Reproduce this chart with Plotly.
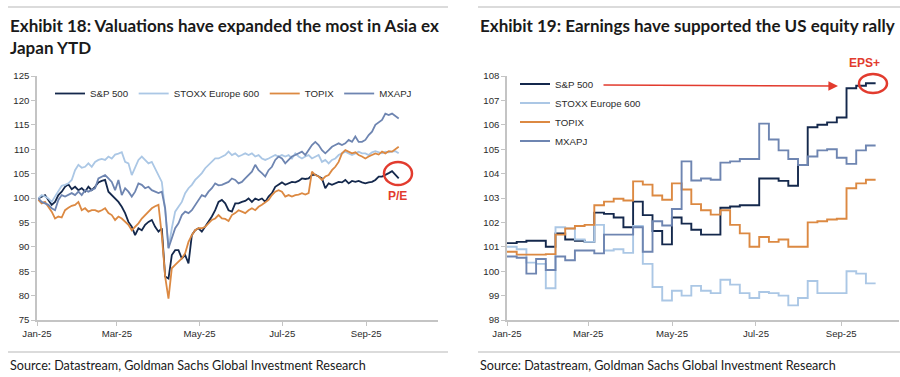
import pandas as pd
import plotly.graph_objects as go

W, H = 900, 377

series_names = ["S&P 500", "STOXX Europe 600", "TOPIX", "MXAPJ"]
series_colors = ["#14284c", "#abc7e5", "#dc8942", "#6e85b1"]

# ---------------- Exhibit 18: P/E (rebased to 100) ----------------
pe_dates = pd.date_range("2025-01-02", "2025-09-25", periods=109)

pe_sp500 = [
    99.9, 100.3, 100.6, 99.6, 98.6, 99.2, 100.6, 101.3, 102.3, 102.8,
    101.8, 102.3, 101.6, 102.0, 101.3, 102.3, 101.6, 102.3, 103.2, 103.5,
    103.7, 101.3, 100.6, 99.9, 99.2, 98.2, 96.9, 95.1, 94.1, 92.4,
    93.8, 93.4, 94.5, 95.1, 95.5, 94.1, 93.1, 93.8, 83.9, 83.5,
    88.3, 89.3, 89.3, 87.6, 88.3, 86.6, 92.4, 93.4, 93.8, 93.1,
    94.1, 95.1, 96.2, 97.5,
    99.2, 99.6, 98.9, 97.5, 97.2, 98.9, 98.9, 99.2, 99.4, 99.9,
    99.2, 99.9, 99.6, 99.9, 99.2, 100.3, 101.0, 102.3, 102.8, 103.2,
    102.7, 103.0, 103.3, 103.2, 103.5, 104.0, 103.9, 104.0, 104.7, 104.8,
    104.4, 104.0, 102.0, 103.0, 102.7, 103.0, 103.3, 103.2, 103.7, 103.0,
    103.5, 103.3, 103.5, 103.2, 103.0, 103.2, 103.3, 103.7, 104.4, 104.4,
    104.7, 105.1, 105.5, 104.7, 104.0,
]
pe_stoxx = [
    99.9, 100.6, 100.3, 99.9, 99.2, 100.3, 101.6, 102.5, 102.7, 103.0,
    103.7, 105.7, 106.8, 106.2, 106.4, 107.1, 106.4, 107.4, 107.8, 108.0,
    107.8, 108.5, 108.1, 108.9, 109.1, 109.4, 107.4, 107.1, 104.7, 106.4,
    107.8, 108.5, 107.8, 107.1, 107.4, 106.1, 104.7, 103.3, 97.5, 89.7,
    93.8, 97.2, 98.2, 99.2, 101.0, 102.0, 102.7, 103.7, 104.4, 105.1,
    106.1, 106.8, 107.4, 108.1,
    108.1, 108.5, 108.8, 109.5, 108.8, 109.15, 108.5, 108.8, 109.15, 108.8,
    109.15, 108.5, 108.8, 108.1, 107.8, 108.1, 108.5, 108.8, 108.5, 108.8,
    108.5, 108.8, 108.1, 109.15, 108.5, 108.1, 108.5, 108.8, 108.1, 108.5,
    108.8, 107.4, 107.8, 107.1, 107.8, 108.1, 108.8, 109.15, 109.5, 109.15,
    108.8, 109.15, 109.5, 109.15, 109.15, 108.8, 109.35, 109.6, 109.35, 109.15,
    109.5, 109.35, 109.5, 109.6, 109.15,
]
pe_topix = [
    99.6, 98.9, 99.2, 98.2, 97.2, 95.8, 96.2, 96.0, 97.5, 98.0,
    98.4, 98.6, 99.2, 97.5, 97.9, 97.2, 97.5, 97.5, 97.2, 97.5,
    97.9, 96.9, 96.5, 95.5, 96.2, 95.8, 95.1, 94.5, 93.4, 94.1,
    94.8, 95.8, 96.5, 97.2, 97.9, 98.3, 98.6, 92.4, 83.9, 79.4,
    85.6, 86.3, 87.0, 87.6, 88.7, 91.0, 92.4, 93.4, 93.8, 93.8,
    94.1, 94.8, 95.5, 95.8,
    96.5, 95.8, 95.7, 95.3, 96.5, 96.9, 97.5, 97.2, 96.9, 97.5,
    97.9, 97.5, 98.2, 98.6, 99.2, 99.6, 100.6, 101.3, 101.6, 101.3,
    100.3, 100.6, 100.3, 100.6, 100.7, 101.0, 100.7, 101.0, 105.4, 104.7,
    104.4, 103.7, 104.4, 104.7, 105.7, 106.4, 107.4, 109.15, 109.8, 109.5,
    109.15, 109.35, 108.8, 108.5, 108.1, 108.5, 108.8, 109.15, 108.9, 109.5,
    109.15, 109.6, 109.5, 110.0, 110.5,
]
pe_mxapj = [
    99.9, 99.2, 98.9, 98.6, 97.9, 97.5, 99.6, 100.6, 100.3, 100.6,
    101.0, 100.6, 101.3, 100.6, 101.6, 101.3, 101.6, 102.0, 104.0, 104.4,
    104.7, 104.0, 103.3, 101.6, 103.7, 100.6, 102.0, 101.3, 100.3, 101.3,
    103.0, 102.7, 102.0, 102.3, 101.6, 101.3, 101.0, 101.3, 97.9, 89.7,
    91.7, 93.8, 94.8, 96.5, 97.2, 96.9, 97.5, 98.6, 99.6, 100.6,
    100.3, 101.3, 102.0, 103.0,
    102.6, 102.7, 103.0, 103.3, 104.0, 103.7, 103.0, 103.3, 104.0, 104.7,
    105.4, 106.8, 105.7, 105.1, 104.4, 105.7, 106.4, 107.8, 108.5, 108.1,
    107.1, 107.8, 108.5, 108.8, 109.15, 109.5, 108.8, 109.8, 110.85, 111.5,
    110.85, 109.8, 109.15, 109.8, 110.5, 110.85, 111.2, 110.85, 111.2, 111.9,
    111.5, 112.6, 111.5, 111.5, 111.9, 112.9, 113.6, 115.0, 115.6, 116.0,
    117.3, 117.0, 117.3, 116.7, 116.3,
]

# ---------------- Exhibit 19: EPS (rebased to 100, weekly) ----------------
eps_dates = pd.date_range("2025-01-01", "2025-09-26", periods=39)

eps_sp500 = [
    101.15, 101.2, 101.25, 101.25, 101.0, 101.55, 101.3, 101.25, 101.2, 102.4,
    102.35, 102.2, 101.8, 102.85, 102.3, 101.65, 101.1, 102.2, 101.95, 101.7,
    101.5, 101.5, 102.6, 102.65, 102.7, 102.7, 103.8, 103.8, 103.7, 103.5,
    104.35, 105.9, 106.0, 106.1, 106.3, 107.5, 107.6, 107.7, 107.7,
]
eps_stoxx = [
    101.0, 100.9, 100.35, 100.3, 99.3, 101.8, 101.75, 101.3, 101.2, 101.9,
    100.85, 100.9, 100.75, 101.85, 100.3, 99.35, 98.8, 99.2, 99.0, 99.4,
    99.2, 99.1, 99.65, 99.45, 99.1, 98.9, 99.15, 99.1, 99.0, 98.6,
    98.9, 99.6, 99.1, 99.1, 99.1, 100.0, 99.9, 99.5, 99.5,
]
eps_topix = [
    100.8, 100.68, 100.68, 100.68, 100.7, 101.5, 101.75, 101.85, 101.9, 102.7,
    102.85, 102.97, 102.9, 103.68, 103.55, 103.1, 102.93, 103.6, 103.35, 102.75,
    102.5, 102.32, 102.5, 101.9, 101.55, 101.0, 101.4, 101.2, 101.3, 101.0,
    101.0, 102.0, 102.05, 102.12, 102.15, 103.4, 103.6, 103.75, 103.75,
]
eps_mxapj = [
    100.6, 100.55, 99.9, 100.5, 100.05, 100.6, 100.45, 100.85, 100.85, 100.73,
    101.5, 101.5, 101.5, 101.8, 100.8, 102.05, 101.87, 102.55, 104.5, 103.72,
    103.8, 103.75, 104.45, 104.5, 104.6, 104.6, 106.05, 105.4, 104.95, 104.6,
    104.35, 104.7, 104.95, 105.0, 104.65, 104.4, 104.95, 105.15, 105.15,
]

tick_dates = ["2025-01-01", "2025-03-01", "2025-05-01", "2025-07-01", "2025-09-01"]
tick_text = ["Jan-25", "Mar-25", "May-25", "Jul-25", "Sep-25"]
pe_ticks = [75, 80, 85, 90, 95, 100, 105, 110, 115, 120, 125]
eps_ticks = [98, 99, 100, 101, 102, 103, 104, 105, 106, 107, 108]

RED = "#e23b2e"
AXIS = "#c4c4c4"
TXT = "#2b2b2b"
TICKFONT = dict(family="Liberation Sans, Arial", size=9.6, color=TXT)
LEGFONT = dict(family="Liberation Sans, Arial", size=9.7, color=TXT)


def px(x):
    return x / W


def py(y):
    return 1 - y / H


fig = go.Figure()

pe_values = [pe_sp500, pe_stoxx, pe_topix, pe_mxapj]
eps_values = [eps_sp500, eps_stoxx, eps_topix, eps_mxapj]

for name, col, vals in zip(series_names, series_colors, pe_values):
    fig.add_trace(go.Scatter(
        x=pe_dates, y=vals, name=name, mode="lines",
        line=dict(color=col, width=1.8), xaxis="x", yaxis="y", legend="legend",
    ))

for name, col, vals in zip(series_names, series_colors, eps_values):
    fig.add_trace(go.Scatter(
        x=eps_dates, y=vals, name=name, mode="lines",
        line=dict(color=col, width=1.9, shape="hv"), xaxis="x2", yaxis="y2", legend="legend2",
    ))

axis_common = dict(
    showgrid=False, zeroline=False, showline=True, linecolor=AXIS, linewidth=1.5,
    ticks="outside", ticklen=4, tickcolor=AXIS, tickfont=TICKFONT, automargin=False,
)

ydom = [py(320), py(76)]

fig.update_layout(
    width=W, height=H,
    margin=dict(l=0, r=0, t=0, b=0, autoexpand=False),
    paper_bgcolor="white", plot_bgcolor="white",
    showlegend=True,
    xaxis=dict(domain=[px(37), px(438)], type="date",
               range=["2025-01-01", "2025-10-24"],
               tickvals=tick_dates, ticktext=tick_text, anchor="y", **axis_common),
    yaxis=dict(domain=ydom, range=[75, 125], tickvals=pe_ticks, anchor="x", **axis_common),
    xaxis2=dict(domain=[px(507), px(899)], type="date",
                range=["2025-01-01", "2025-10-13"],
                tickvals=tick_dates, ticktext=tick_text, anchor="y2", **axis_common),
    yaxis2=dict(domain=ydom, range=[98, 108], tickvals=eps_ticks, anchor="x2", **axis_common),
    legend=dict(orientation="h", x=px(50), y=py(79), xanchor="left", yanchor="top",
                font=LEGFONT, bgcolor="rgba(0,0,0,0)", itemwidth=30),
    legend2=dict(orientation="v", x=px(515), y=py(69.5), xanchor="left", yanchor="top",
                 font=LEGFONT, bgcolor="rgba(0,0,0,0)", itemwidth=30, tracegroupgap=0),
)

TITLE_FONT = dict(family="Lato, Open Sans, sans-serif", size=17, color="#1a1a1a")
SRC_FONT = dict(family="Lato, Open Sans, sans-serif", size=12.6, color="#1a1a1a")

annotations = [
    dict(text="<b>Exhibit 18: Valuations have expanded the most in Asia ex<br>Japan YTD</b>",
         x=px(8), y=py(13), xanchor="left", yanchor="top", align="left", font=TITLE_FONT),
    dict(text="<b>Exhibit 19: Earnings have supported the US equity rally</b>",
         x=px(478), y=py(13), xanchor="left", yanchor="top", align="left", font=TITLE_FONT),
    dict(text="Source: Datastream, Goldman Sachs Global Investment Research",
         x=px(8), y=py(365), xanchor="left", yanchor="middle", font=SRC_FONT),
    dict(text="Source: Datastream, Goldman Sachs Global Investment Research",
         x=px(478), y=py(365), xanchor="left", yanchor="middle", font=SRC_FONT),
    dict(text="<b>P/E</b>", x=px(397), y=py(196), xanchor="center", yanchor="middle",
         font=dict(family="Liberation Sans, Arial", size=12, color=RED)),
    dict(text="<b>EPS+</b>", x=px(864), y=py(63), xanchor="center", yanchor="middle",
         font=dict(family="Liberation Sans, Arial", size=12, color=RED)),
    dict(text="", x=px(838), y=py(86),
         ax=602 - 838, ay=85 - 86, axref="pixel", ayref="pixel",
         showarrow=True, arrowhead=2, arrowsize=1.2, arrowwidth=1.6, arrowcolor=RED),
]
for a in annotations:
    a.setdefault("xref", "paper")
    a.setdefault("yref", "paper")
    a.setdefault("showarrow", False)
fig.update_layout(annotations=annotations)

shapes = [
    dict(type="line", x0=px(8), x1=px(448), y0=py(7), y1=py(7), line=dict(color="#cfcfcf", width=1.5)),
    dict(type="line", x0=px(478), x1=px(900), y0=py(7), y1=py(7), line=dict(color="#cfcfcf", width=1.5)),
    dict(type="line", x0=px(8), x1=px(448), y0=py(352), y1=py(352), line=dict(color="#cfcfcf", width=1.5)),
    dict(type="line", x0=px(478), x1=px(900), y0=py(352), y1=py(352), line=dict(color="#cfcfcf", width=1.5)),
    dict(type="circle", x0=px(384), x1=px(412), y0=py(185), y1=py(162), line=dict(color=RED, width=2.5)),
    dict(type="circle", x0=px(859), x1=px(887), y0=py(93), y1=py(74), line=dict(color=RED, width=2.5)),
]
for s in shapes:
    s["xref"] = "paper"
    s["yref"] = "paper"
fig.update_layout(shapes=shapes)

fig.write_html(
    "out.html",
    config={"displayModeBar": False},
    post_script="document.body.style.margin='0px';document.body.style.overflow='hidden';",
)
